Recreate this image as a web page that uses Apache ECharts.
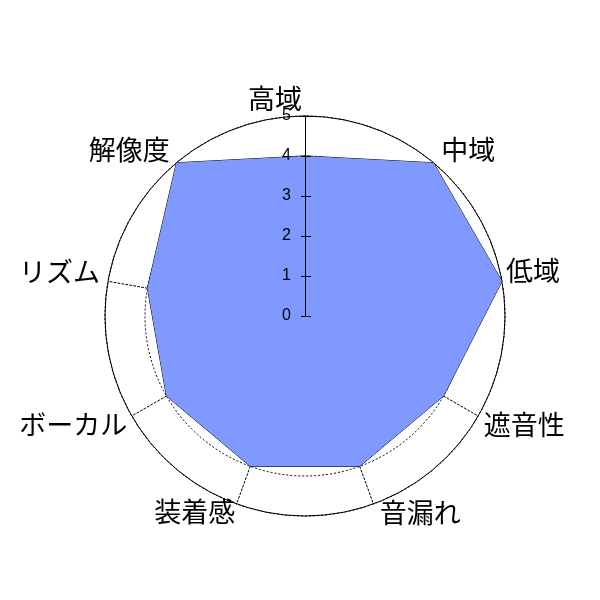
<!DOCTYPE html>
<html>
<head>
<meta charset="utf-8">
<script src="https://cdn.jsdelivr.net/npm/echarts@6/dist/echarts.min.js"></script>
<style>
html,body{margin:0;padding:0;background:#fff;}
#chart{width:600px;height:600px;}
</style>
</head>
<body>
<div id="chart"></div>
<script>
// Data (clockwise from top)
const categories = ['高域', '中域', '低域', '遮音性', '音漏れ', '装着感', 'ボーカル', 'リズム', '解像度'];
const scores = [4, 5, 5, 4, 4, 4, 4, 4, 5];
const scaleMin = 0;
const scaleMax = 5;
const tickStep = 1;

// ECharts radar runs counter-clockwise: keep first, reverse the rest
const order = [0].concat(categories.map((_, i) => i).slice(1).reverse());
const indicators = order.map(i => ({ name: categories[i], min: scaleMin, max: scaleMax }));
const seriesValues = order.map(i => scores[i]);

const labelPads = [
  [0, 60, 0, 0],
  [0, 0, 20, 5],
  [0, 0, 19, 0],
  [14, 0, 0, 2],
  [10, 0, 0, 5],
  [8, 0, 0, 0],
  [14, 1, 0, 0],
  [0, 4, 17, 0],
  [0, 4, 20, 0]
];
const rich = {};
labelPads.forEach((p, i) => {
  rich['r' + i] = { padding: p, fontSize: 27, color: '#000', fontFamily: 'Noto Sans CJK JP' };
});

const chart = echarts.init(document.getElementById('chart'), null, { renderer: 'canvas' });
chart.setOption({
  backgroundColor: '#ffffff',
  animation: false,
  radar: [
    {
      center: [305, 316],
      radius: 200,
      shape: 'circle',
      splitNumber: (scaleMax - scaleMin) / tickStep,
      indicator: indicators,
      nameGap: 4,
      axisName: {
        color: '#000',
        fontSize: 27,
        fontFamily: 'Noto Sans CJK JP',
        formatter: (name) => '{r' + categories.indexOf(name) + '|' + name + '}',
        rich: rich
      },
      axisLine: { show: true, lineStyle: { color: '#000', width: 1, type: [2, 2] } },
      splitLine: { show: true, lineStyle: { color: '#000', width: 1, type: [2, 2] } },
      splitArea: { show: false },
      axisTick: { show: false },
      axisLabel: { show: false }
    },
    {
      center: [305, 316],
      radius: 200,
      shape: 'circle',
      splitNumber: 1,
      indicator: indicators,
      axisName: { show: false },
      axisLine: { show: false },
      splitLine: { show: true, lineStyle: { color: '#000', width: 1, type: 'solid' } },
      splitArea: { show: false },
      axisTick: { show: false },
      axisLabel: { show: false }
    }
  ],
  grid: { left: 305, top: 116, height: 200, width: 1 },
  xAxis: { type: 'value', show: false, min: 0, max: 1 },
  yAxis: [
    {
      type: 'value', position: 'left', min: scaleMin, max: scaleMax, interval: tickStep, z: 10,
      axisLine: { show: true, lineStyle: { color: '#000', width: 1 } },
      axisTick: { show: true, length: 4, lineStyle: { color: '#000' } },
      axisLabel: { show: true, margin: 14, fontSize: 16, color: '#000', fontFamily: 'Liberation Sans' },
      splitLine: { show: false }
    },
    {
      type: 'value', position: 'right', min: scaleMin, max: scaleMax, interval: tickStep, z: 10,
      axisLine: { show: false },
      axisTick: { show: true, length: 5, lineStyle: { color: '#000' } },
      axisLabel: { show: false },
      splitLine: { show: false }
    }
  ],
  series: [
    {
      type: 'radar',
      radarIndex: 0,
      symbol: 'none',
      silent: true,
      lineStyle: { color: '#000', width: 1 },
      areaStyle: { color: '#8099FF', opacity: 1 },
      data: [{ value: seriesValues, name: 'score' }]
    }
  ]
});
</script>
</body>
</html>
